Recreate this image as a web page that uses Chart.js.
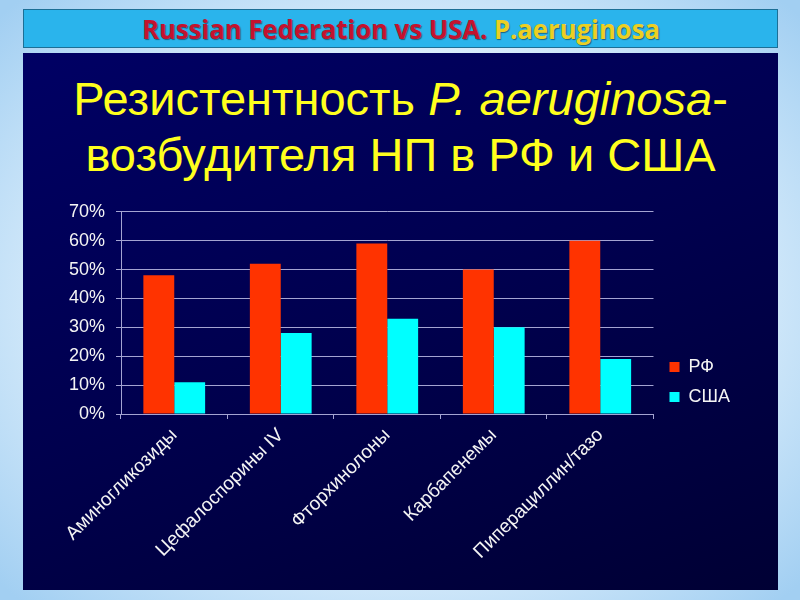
<!DOCTYPE html>
<html>
<head>
<meta charset="utf-8">
<script src="https://cdn.jsdelivr.net/npm/chart.js@4.4.1/dist/chart.umd.min.js"></script>
<style>
html,body{margin:0;padding:0;width:800px;height:600px;overflow:hidden;}
body{position:relative;background:radial-gradient(ellipse 68% 70% at 50% 50%,#f6fbff 0%,#e0f0fc 55%,#a2cff2 100%);font-family:"Liberation Sans",Arial,sans-serif;}
#hdr{position:absolute;left:23px;top:9px;width:753px;height:37px;background:#2ab4ec;border:1px solid #1c6f96;overflow:hidden;}
#hdrtxt{position:absolute;left:0;top:0;white-space:nowrap;font-family:"Open Sans",sans-serif;font-weight:700;font-size:27px;line-height:38px;transform-origin:0 50%;text-shadow:1px 1px 1px rgba(0,0,0,0.45);}
#hdrtxt .a{color:#c4122e;}
#hdrtxt .b{color:#eccf22;}
#slide{position:absolute;left:23px;top:53px;width:755px;height:537px;background:linear-gradient(160deg,#000064 0%,#00004e 50%,#000034 100%);}
#title{position:absolute;left:0;top:18px;width:755px;text-align:center;color:#ffff1e;font-family:"Liberation Sans",Arial,sans-serif;font-size:47px;line-height:56px;white-space:nowrap;}
#chart{position:absolute;left:0;top:137px;}
</style>
</head>
<body>
<div id="hdr"><div id="hdrtxt"><span class="a">Russian Federation vs USA. </span><span class="b">P.aeruginosa</span></div></div>
<div id="slide">
  <div id="title">Резистентность <i>P. aeruginosa</i>-<br>возбудителя НП в РФ и США</div>
  <canvas id="chart" width="717" height="400"></canvas>
</div>
<script>
// ---- data ----
const categories = ["Аминогликозиды", "Цефалоспорины IV", "Фторхинолоны", "Карбапенемы", "Пиперациллин/тазо"];
const seriesNames = ["РФ", "США"];
const valuesRF = [48, 52, 59, 50, 60];
const valuesUSA = [11, 28, 33, 30, 19];
const yTicksMax = 70;
const yTickStep = 10;

// header text fit
(function(){
  const el = document.getElementById('hdrtxt');
  const target = 518, inner = 753;
  const w = el.getBoundingClientRect().width;
  const s = target / w;
  el.style.transform = 'scaleX(' + s + ')';
  el.style.left = ((inner - target) / 2) + 'px';
})();

const gridColor = '#a4a4d2';
const textColor = '#f4f4f4';
const fam = '"Liberation Sans", Arial, sans-serif';

new Chart(document.getElementById('chart'), {
  type: 'bar',
  data: {
    labels: categories,
    datasets: [
      {label: seriesNames[0], data: valuesRF, backgroundColor: '#ff3300', borderWidth: 0},
      {label: seriesNames[1], data: valuesUSA, backgroundColor: '#00ffff', borderWidth: 0}
    ]
  },
  options: {
    responsive: false,
    animation: false,
    devicePixelRatio: 1,
    layout: {padding: {top: 15, bottom: 31, left: 0, right: 0}},
    datasets: {bar: {categoryPercentage: 0.58, barPercentage: 1.0}},
    plugins: {
      tooltip: {enabled: false},
      title: {display: false},
      legend: {
        position: 'right',
        labels: {color: textColor, font: {family: fam, size: 18}, boxWidth: 10, boxHeight: 10, padding: 12}
      }
    },
    scales: {
      x: {
        grid: {display: true, drawOnChartArea: false, drawTicks: true, tickLength: 5, color: gridColor},
        border: {display: true, color: gridColor},
        ticks: {color: textColor, font: {family: fam, size: 19}, maxRotation: 45, minRotation: 45, padding: 5, autoSkip: false},
        afterFit: s => { s.height = 145; }
      },
      y: {
        min: 0, max: yTicksMax,
        grid: {color: gridColor, tickLength: 5, lineWidth: 1},
        border: {display: true, color: gridColor},
        ticks: {stepSize: yTickStep, color: textColor, font: {family: fam, size: 18}, padding: 11, callback: v => v + '%'},
        afterFit: s => { s.width = 98; }
      },
      y2: {
        position: 'right',
        display: true,
        grid: {display: false, drawTicks: false},
        border: {display: false},
        ticks: {display: false},
        afterFit: s => { s.width = 4; }
      }
    }
  }
});
</script>
</body>
</html>
